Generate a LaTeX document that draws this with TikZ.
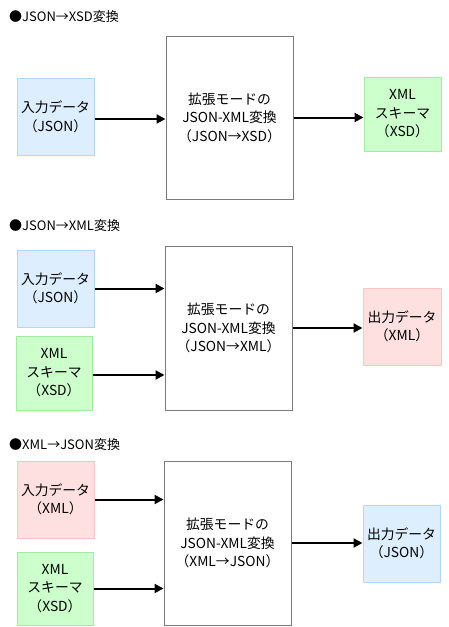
\documentclass[tikz,border=0pt]{standalone}
\usepackage{fontspec}
\setmainfont{Noto Sans CJK JP}
\usetikzlibrary{arrows.meta}
\definecolor{bfill}{HTML}{DDEEFF}
\definecolor{bline}{HTML}{B5D8FA}
\definecolor{gfill}{HTML}{CCFFCC}
\definecolor{gline}{HTML}{A3EDA3}
\definecolor{pfill}{HTML}{FFE0E0}
\definecolor{pline}{HTML}{FFC4C4}
\definecolor{cline}{HTML}{7A7A7A}
\tikzset{
  base/.style={rectangle, inner sep=0pt, align=center, font=\fontsize{13.8}{18.5}\selectfont},
  bluebox/.style={base, fill=bfill, draw=bline, line width=1pt},
  greenbox/.style={base, fill=gfill, draw=gline, line width=1pt},
  pinkbox/.style={base, fill=pfill, draw=pline, line width=1pt},
  convbox/.style={base, fill=white, draw=cline, line width=1pt, minimum width=127pt, minimum height=163pt},
  title/.style={anchor=west, inner sep=0pt, font=\fontsize{13}{15}\selectfont},
  flow/.style={draw=black, line width=2pt, -{Triangle[length=9pt,width=9pt]}}
}
\begin{document}
\begin{tikzpicture}[x=1pt,y=-1pt]
\useasboundingbox (0,0) rectangle (449,627);
% Section 1
\node[title] (t1) at (9,17) {●JSON→XSD変換};
\node[bluebox, minimum width=77pt, minimum height=77pt] (in1) at (55.5,117) {入力データ\\（JSON）};
\node[convbox] (c1) at (229.5,117.5) {拡張モードの\\JSON-XML変換\\（JSON→XSD）};
\node[greenbox, minimum width=77pt, minimum height=74pt] (out1) at (402.5,114) {XML\\スキーマ\\（XSD）};
\draw[flow] (in1.east) ++(0,2) coordinate (a1) -- (a1 -| c1.west);
\draw[flow] (c1.east) -- (c1.east -| out1.west);
% Section 2
\node[title] (t2) at (9,226) {●JSON→XML変換};
\node[bluebox, minimum width=77pt, minimum height=77pt] (in2) at (55.5,288.5) {入力データ\\（JSON）};
\node[greenbox, minimum width=76pt, minimum height=74pt] (xsd2) at (54,373) {XML\\スキーマ\\（XSD）};
\node[convbox, minimum height=164pt] (c2) at (228.5,328) {拡張モードの\\JSON-XML変換\\（JSON→XML）};
\node[pinkbox, minimum width=78pt, minimum height=77pt] (out2) at (402,326.5) {出力データ\\（XML）};
\draw[flow] (in2.east) -- (in2.east -| c2.west);
\draw[flow] (xsd2.east) ++(0,2) coordinate (a2) -- (a2 -| c2.west);
\draw[flow] (c2.east) -- (c2.east -| out2.west);
% Section 3
\node[title] (t3) at (9,445) {●XML→JSON変換};
\node[pinkbox, minimum width=77pt, minimum height=77pt] (in3) at (55.5,499.5) {入力データ\\（XML）};
\node[greenbox, minimum width=76pt, minimum height=73pt] (xsd3) at (55,588.5) {XML\\スキーマ\\（XSD）};
\node[convbox, minimum height=164pt] (c3) at (227.5,543) {拡張モードの\\JSON-XML変換\\（XML→JSON）};
\node[bluebox, minimum width=77pt, minimum height=77pt] (out3) at (401.5,543.5) {出力データ\\（JSON）};
\draw[flow] (in3.east) -- (in3.east -| c3.west);
\draw[flow] (xsd3.east) -- (xsd3.east -| c3.west);
\draw[flow] (c3.east) -- (c3.east -| out3.west);
\end{tikzpicture}
\end{document}
